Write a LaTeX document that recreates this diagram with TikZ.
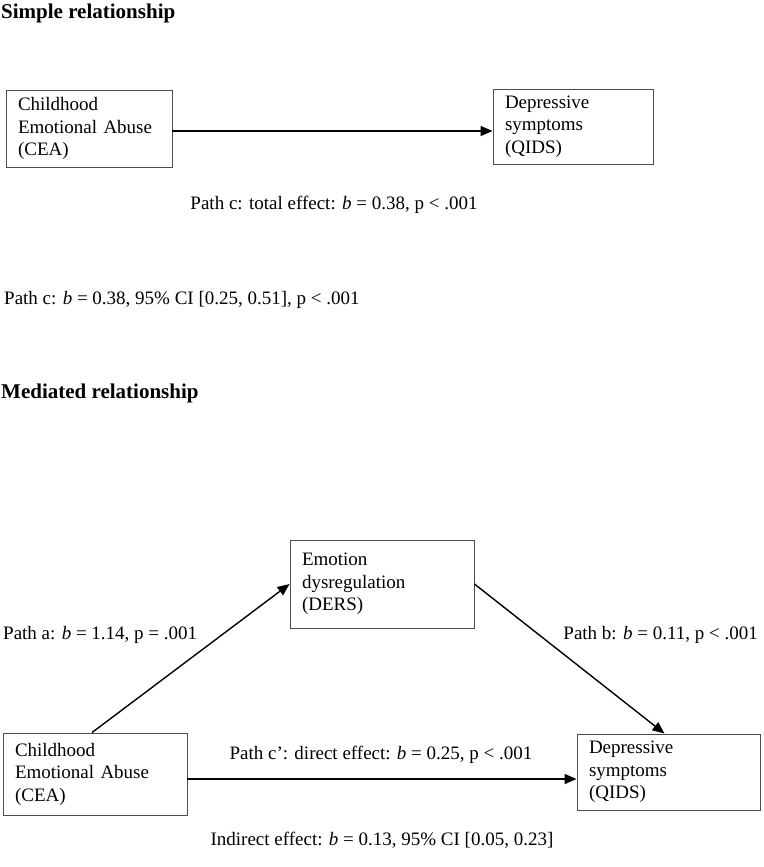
\documentclass[tikz,border=0pt]{standalone}
\usepackage{fontspec}
\setmainfont{Liberation Serif}
\usetikzlibrary{arrows.meta}
\begin{document}
\begin{tikzpicture}[x=1pt,y=-1pt,
  every node/.style={font=\fontsize{19}{22.5}\selectfont},
  box/.style={draw=black!70,line width=0.9pt,rectangle,align=left,inner xsep=12pt,inner ysep=0pt},
  lbl/.style={inner sep=0pt},
  ttl/.style={inner sep=0pt,anchor=west,font=\fontsize{21}{23}\selectfont\bfseries},
  arr/.style={line width=1.4pt,-{Triangle[length=12pt,width=10pt]}}]
\useasboundingbox (0,0) rectangle (763,867);
\node[ttl] (t1) at (1,13) {Simple relationship};
\node[box,minimum width=166pt,minimum height=77pt,text width=142pt] (cea1) at (89,128.5) {Childhood\\Emotional Abuse\\(CEA)};
\node[box,minimum width=160pt,minimum height=75pt,text width=136pt] (qids1) at (573,126.5) {Depressive\\symptoms\\(QIDS)};
\draw[arr] (cea1.east |- 0,131) -- (qids1.west |- 0,131);
\node[lbl] (pc) at (334,205) {Path c: total effect: \textit{b} = 0.38, p < .001};
\node[lbl,anchor=west] (pc2) at (4,300) {Path c: \textit{b} = 0.38, 95\% CI [0.25, 0.51], p < .001};
\node[ttl] (t2) at (1,393) {Mediated relationship};
\node[box,minimum width=184pt,minimum height=88pt,text width=160pt] (ders) at (382,584) {Emotion\\dysregulation\\(DERS)};
\node[box,minimum width=184pt,minimum height=82pt,text width=160pt] (cea2) at (95,774) {Childhood\\Emotional Abuse\\(CEA)};
\node[box,minimum width=183pt,minimum height=76pt,text width=159pt] (qids2) at (668.5,772) {Depressive\\symptoms\\(QIDS)};
\draw[arr] ([xshift=-3pt]cea2.north) -- (ders.west);
\draw[arr] (ders.east) -- ([xshift=-4pt]qids2.north);
\draw[arr] (cea2.east |- 0,779) -- (qids2.west |- 0,779);
\node[lbl,anchor=west] (pa) at (3,635) {Path a: \textit{b} = 1.14, p = .001};
\node[lbl,anchor=east] (pb) at (758,635) {Path b: \textit{b} = 0.11, p < .001};
\node[lbl] (pcc) at (381,755) {Path c’: direct effect: \textit{b} = 0.25, p < .001};
\node[lbl] (ind) at (382,840) {Indirect effect: \textit{b} = 0.13, 95\% CI [0.05, 0.23]};
\end{tikzpicture}
\end{document}
